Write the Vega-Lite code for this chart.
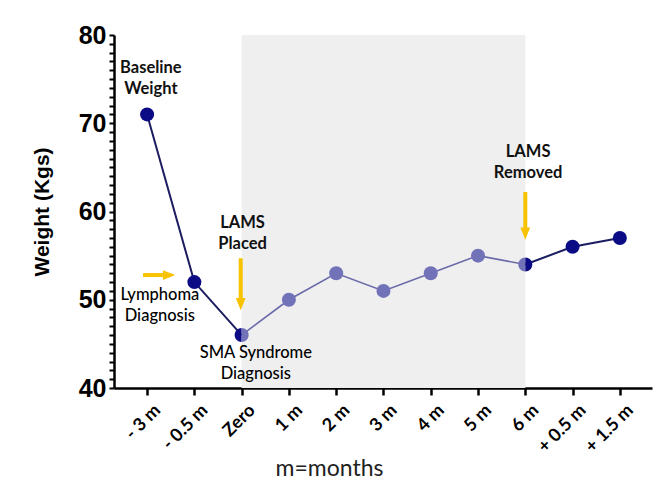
{
  "$schema": "https://vega.github.io/schema/vega-lite/v6.json",
  "autosize": "none",
  "width": 538,
  "height": 353,
  "padding": {"left": 114, "top": 35, "right": 11, "bottom": 107},
  "background": "white",
  "config": {"view": {"stroke": null}},
  "datasets": {
    "pts": [
      {"idx": 0, "label": "- 3 m", "weight": 71, "tone": "dark", "half": "full"},
      {"idx": 1, "label": "- 0.5 m", "weight": 52, "tone": "dark", "half": "full"},
      {"idx": 2, "label": "Zero", "weight": 46, "tone": "dark", "half": "left"},
      {"idx": 2, "label": "Zero", "weight": 46, "tone": "light", "half": "right"},
      {"idx": 3, "label": "1 m", "weight": 50, "tone": "light", "half": "full"},
      {"idx": 4, "label": "2 m", "weight": 53, "tone": "light", "half": "full"},
      {"idx": 5, "label": "3 m", "weight": 51, "tone": "light", "half": "full"},
      {"idx": 6, "label": "4 m", "weight": 53, "tone": "light", "half": "full"},
      {"idx": 7, "label": "5 m", "weight": 55, "tone": "light", "half": "full"},
      {"idx": 8, "label": "6 m", "weight": 54, "tone": "light", "half": "left"},
      {"idx": 8, "label": "6 m", "weight": 54, "tone": "dark", "half": "right"},
      {"idx": 9, "label": "+ 0.5 m", "weight": 56, "tone": "dark", "half": "full"},
      {"idx": 10, "label": "+ 1.5 m", "weight": 57, "tone": "dark", "half": "full"}
    ],
    "shade": [{"start": 2, "end": 8, "low": 40, "high": 80}],
    "shafts": [
      {"x": -0.085, "x2": 0.46, "y": 52.8, "y2": 52.8},
      {"x": 1.98, "x2": 1.98, "y": 54.7, "y2": 49.6},
      {"x": 8.0, "x2": 8.0, "y": 62.2, "y2": 57.6}
    ],
    "heads": [
      {"x": 0.465, "y": 52.8, "dir": "right"},
      {"x": 1.98, "y": 49.5, "dir": "down"},
      {"x": 8.0, "y": 57.5, "dir": "down"}
    ],
    "notes": [
      {"x": 0.08, "y": 76.3, "text": "Baseline\nWeight", "weight": "bold"},
      {"x": 0.27, "y": 50.5, "text": "Lymphoma\nDiagnosis", "weight": "normal"},
      {"x": 2.3, "y": 44.0, "text": "SMA Syndrome\nDiagnosis", "weight": "normal"},
      {"x": 2.02, "y": 58.7, "text": "LAMS\nPlaced", "weight": "bold"},
      {"x": 8.06, "y": 66.7, "text": "LAMS\nRemoved", "weight": "bold"}
    ]
  },
  "resolve": {"scale": {"shape": "independent"}, "axis": {"x": "independent", "y": "independent"}},
  "layer": [
    {
      "data": {"name": "shade"},
      "mark": {"type": "rect", "color": "#efefef"},
      "encoding": {
        "x": {"field": "start", "type": "quantitative", "scale": {"domain": [-0.7, 10.68], "nice": false, "zero": false}, "axis": null},
        "x2": {"field": "end"},
        "y": {"field": "low", "type": "quantitative", "scale": {"domain": [40, 80], "nice": false, "zero": false}, "axis": null},
        "y2": {"field": "high"}
      }
    },
    {
      "data": {"name": "pts"},
      "transform": [{"filter": "datum.idx <= 2 && datum.tone == 'dark'"}],
      "mark": {"type": "line", "color": "#1c1c62", "strokeWidth": 2},
      "encoding": {
        "x": {"field": "idx", "type": "quantitative", "axis": null},
        "y": {"field": "weight", "type": "quantitative", "axis": null}
      }
    },
    {
      "data": {"name": "pts"},
      "transform": [{"filter": "datum.tone == 'light'"}],
      "mark": {"type": "line", "color": "#6a6aab", "strokeWidth": 1.6},
      "encoding": {
        "x": {"field": "idx", "type": "quantitative", "axis": null},
        "y": {"field": "weight", "type": "quantitative", "axis": null}
      }
    },
    {
      "data": {"name": "pts"},
      "transform": [{"filter": "datum.idx >= 8 && datum.tone == 'dark'"}],
      "mark": {"type": "line", "color": "#1c1c62", "strokeWidth": 2},
      "encoding": {
        "x": {"field": "idx", "type": "quantitative", "axis": null},
        "y": {"field": "weight", "type": "quantitative", "axis": null}
      }
    },
    {
      "data": {"name": "pts"},
      "mark": {"type": "point", "filled": true, "opacity": 1, "size": 196},
      "encoding": {
        "x": {"field": "idx", "type": "quantitative",
          "axis": {"values": [0, 1, 2, 3, 4, 5, 6, 7, 8, 9, 10], "grid": false, "title": "m=months",
            "labelExpr": "['- 3 m','- 0.5 m','Zero','1 m','2 m','3 m','4 m','5 m','6 m','+ 0.5 m','+ 1.5 m'][datum.value]",
            "labelOverlap": false, "labelBound": false, "labelFlush": false,
            "labelAngle": -45, "labelFont": "Lato", "labelFontWeight": "bold", "labelFontSize": 18, "labelColor": "black", "labelPadding": 6, "labelOffset": 4,
            "tickSize": 7, "tickWidth": 2.5, "tickColor": "black", "domainColor": "black", "domainWidth": 2.5,
            "titleFont": "Lato", "titleFontWeight": "normal", "titleFontSize": 23, "titleColor": "#222222",
            "titleX": 215, "titleY": 80, "titleAlign": "center", "titleBaseline": "middle"}},
        "y": {"field": "weight", "type": "quantitative",
          "axis": {"orient": "left", "values": [40, 41, 42, 43, 44, 45, 46, 47, 48, 49, 50, 51, 52, 53, 54, 55, 56, 57, 58, 59, 60, 61, 62, 63, 64, 65, 66, 67, 68, 69, 70, 71, 72, 73, 74, 75, 76, 77, 78, 79, 80],
            "labelExpr": "datum.value % 10 == 0 ? datum.label : ''", "labelOverlap": false, "labelBound": false, "labelFlush": false,
            "grid": false, "title": "Weight (Kgs)",
            "labelFont": "Liberation Sans", "labelFontWeight": "bold", "labelFontSize": 25, "labelColor": "black", "labelPadding": 3,
            "tickSize": 5, "tickWidth": 2, "tickColor": "black", "domainColor": "black", "domainWidth": 2.5,
            "titleFont": "Liberation Sans", "titleFontWeight": "bold", "titleFontSize": 21, "titleColor": "black", "titlePadding": 26}},
        "color": {"field": "tone", "type": "nominal", "scale": {"domain": ["dark", "light"], "range": ["#0b0b85", "#7272b8"]}, "legend": null},
        "shape": {"field": "half", "type": "nominal", "scale": {"domain": ["full", "left", "right"], "range": ["circle", "M0,-1A1,1 0 0 0 0,1Z", "M0,-1A1,1 0 0 1 0,1Z"]}, "legend": null}
      }
    },
    {
      "data": {"name": "shafts"},
      "mark": {"type": "rule", "color": "#f7c200", "strokeWidth": 4},
      "encoding": {
        "x": {"field": "x", "type": "quantitative", "axis": null},
        "x2": {"field": "x2"},
        "y": {"field": "y", "type": "quantitative", "axis": null},
        "y2": {"field": "y2"}
      }
    },
    {
      "data": {"name": "heads"},
      "mark": {"type": "point", "filled": true, "opacity": 1, "size": 150, "color": "#f7c200"},
      "encoding": {
        "x": {"field": "x", "type": "quantitative", "axis": null},
        "y": {"field": "y", "type": "quantitative", "axis": null},
        "shape": {"field": "dir", "type": "nominal", "scale": {"domain": ["right", "down"], "range": ["M-1,-0.8L-1,0.8L1,0Z", "M-0.8,-1L0.8,-1L0,1Z"]}, "legend": null}
      }
    },
    {
      "data": {"name": "notes"},
      "transform": [{"filter": "datum.weight == 'bold'"}],
      "mark": {"type": "text", "font": "Lato", "fontWeight": "bold", "fontSize": 16.5, "lineHeight": 21, "lineBreak": "\n", "align": "center", "baseline": "middle", "color": "#111111"},
      "encoding": {
        "x": {"field": "x", "type": "quantitative", "axis": null},
        "y": {"field": "y", "type": "quantitative", "axis": null},
        "text": {"field": "text", "type": "nominal"}
      }
    },
    {
      "data": {"name": "notes"},
      "transform": [{"filter": "datum.weight == 'normal'"}],
      "mark": {"type": "text", "font": "Lato", "fontWeight": 500, "fontSize": 16.5, "lineHeight": 21, "lineBreak": "\n", "align": "center", "baseline": "middle", "color": "#000000"},
      "encoding": {
        "x": {"field": "x", "type": "quantitative", "axis": null},
        "y": {"field": "y", "type": "quantitative", "axis": null},
        "text": {"field": "text", "type": "nominal"}
      }
    }
  ]
}
